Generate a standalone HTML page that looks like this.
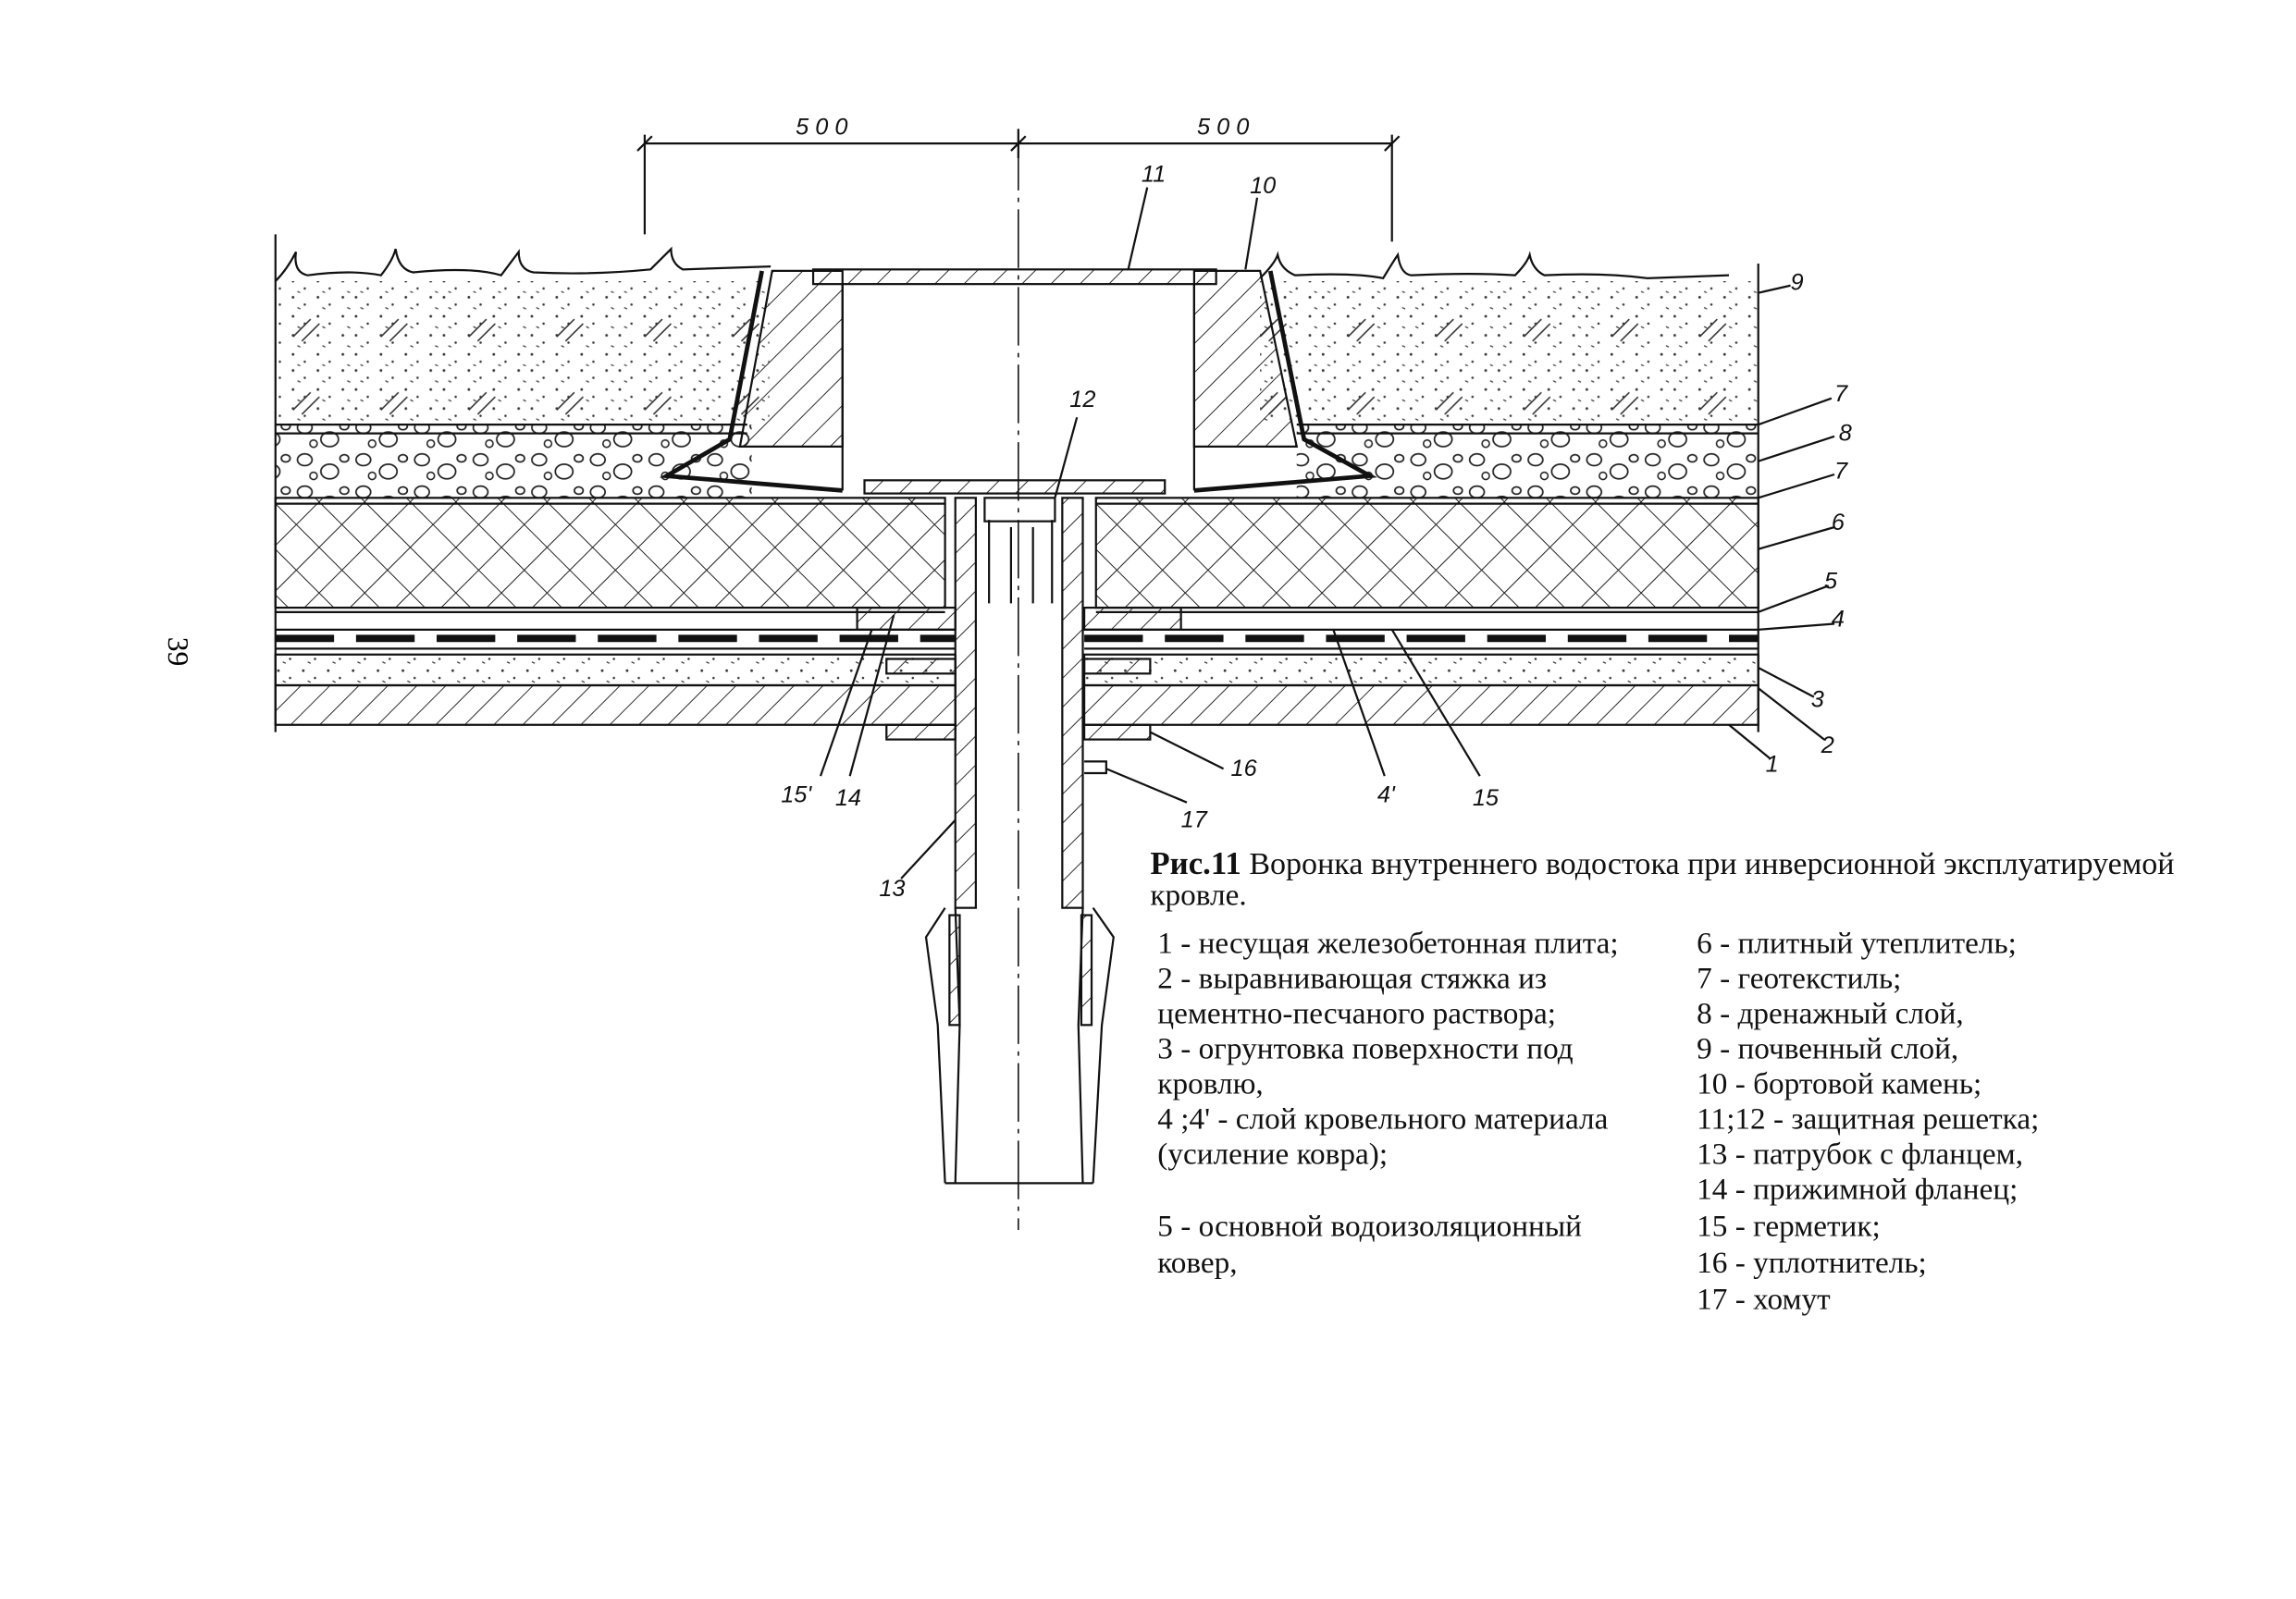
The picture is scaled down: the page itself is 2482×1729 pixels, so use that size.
<!DOCTYPE html>
<html><head><meta charset="utf-8"><style>
html,body{margin:0;padding:0;background:#fff;}
svg{display:block;}
.t{font-family:"Liberation Serif",serif;font-size:21px;fill:#111;}
.n{font-family:"Liberation Sans",sans-serif;font-style:italic;font-size:16px;fill:#111;}
</style></head><body>
<svg width="2482" height="1729" viewBox="0 0 1567 1092" preserveAspectRatio="none" xmlns="http://www.w3.org/2000/svg">
<defs>
<pattern id="diag" width="14" height="14" patternUnits="userSpaceOnUse" patternTransform="rotate(45)"><line x1="0" y1="0" x2="0" y2="14" stroke="#222" stroke-width="1.2"/></pattern>
<pattern id="cross" width="22" height="22" patternUnits="userSpaceOnUse" patternTransform="rotate(45)"><line x1="0" y1="0" x2="0" y2="22" stroke="#222" stroke-width="1.3"/><line x1="0" y1="0" x2="22" y2="0" stroke="#222" stroke-width="1.3"/></pattern>
<pattern id="dots" width="17" height="13" patternUnits="userSpaceOnUse"><circle cx="3" cy="3" r="0.9" fill="#333"/><circle cx="11" cy="8" r="0.8" fill="#333"/><line x1="6" y1="10" x2="8" y2="11" stroke="#333" stroke-width="0.8"/></pattern>
<pattern id="soil" width="60" height="50" patternUnits="userSpaceOnUse"><rect width="60" height="50" fill="url(#dots)"/><line x1="20" y1="30" x2="32" y2="18" stroke="#333" stroke-width="1"/><line x1="26" y1="33" x2="38" y2="21" stroke="#333" stroke-width="1"/></pattern>
<pattern id="grav" width="40" height="22" patternUnits="userSpaceOnUse"><ellipse cx="8" cy="6" rx="5" ry="4" fill="none" stroke="#222" stroke-width="1.1"/><ellipse cx="25" cy="14" rx="6" ry="5" fill="none" stroke="#222" stroke-width="1.1"/><ellipse cx="35" cy="5" rx="3" ry="2.5" fill="none" stroke="#222" stroke-width="1.1"/><circle cx="14" cy="17" r="2.5" fill="none" stroke="#222"/></pattern>
</defs>
<g stroke="#111" fill="none" stroke-width="1.4">
<line x1="440" y1="98" x2="950" y2="98"/>
<line x1="440" y1="92" x2="440" y2="160"/><line x1="950" y1="92" x2="950" y2="165"/><line x1="695" y1="88" x2="695" y2="108"/>
<line x1="435" y1="103" x2="445" y2="93"/><line x1="690" y1="103" x2="700" y2="93"/><line x1="945" y1="103" x2="955" y2="93"/>
<rect x="188" y="192" width="337" height="98" fill="url(#soil)" stroke="none"/>
<rect x="860" y="192" width="340" height="98" fill="url(#soil)" stroke="none"/>
<path d="M188 192 q8-8 14-20 q-2 14 8 16 q30 -4 50 0 q8-10 10-18 q2 14 12 16 q40 -4 60 2 q6-8 12-16 q0 12 10 14 q40 2 80 -2 q10-10 14-14 q0 10 8 14 l60 -2"/>
<path d="M860 190 q10-10 12-16 q2 10 12 14 q40 -2 60 2 q6-10 10-16 q2 14 10 14 q40-2 70 0 q8-8 10-14 q2 10 10 14 q40 -2 70 2 l56 -2"/>
<rect x="188" y="290" width="325" height="50" fill="url(#grav)" stroke="none"/>
<rect x="885" y="290" width="315" height="50" fill="url(#grav)" stroke="none"/>
<line x1="188" y1="290" x2="510" y2="290"/><line x1="885" y1="290" x2="1200" y2="290"/>
<line x1="188" y1="296" x2="510" y2="296"/><line x1="885" y1="296" x2="1200" y2="296"/>
<rect x="188" y="340" width="457" height="75" fill="url(#cross)"/>
<rect x="748" y="340" width="452" height="75" fill="url(#cross)"/>
<line x1="188" y1="344" x2="645" y2="344"/><line x1="748" y1="344" x2="1200" y2="344"/>
<line x1="188" y1="418" x2="645" y2="418"/><line x1="748" y1="418" x2="1200" y2="418"/>
<line x1="188" y1="436" x2="652" y2="436" stroke-width="5" stroke-dasharray="40 15"/>
<line x1="740" y1="436" x2="1200" y2="436" stroke-width="5" stroke-dasharray="40 15"/>
<line x1="188" y1="430" x2="652" y2="430"/><line x1="740" y1="430" x2="1200" y2="430"/>
<line x1="188" y1="443" x2="652" y2="443"/><line x1="740" y1="443" x2="1200" y2="443"/>
<rect x="188" y="447" width="464" height="21" fill="url(#dots)"/>
<rect x="740" y="447" width="460" height="21" fill="url(#dots)"/>
<rect x="188" y="468" width="464" height="27" fill="url(#diag)"/>
<rect x="740" y="468" width="460" height="27" fill="url(#diag)"/>
<line x1="188" y1="160" x2="188" y2="500"/><line x1="1200" y1="180" x2="1200" y2="500"/>
<path d="M527 185 L575 185 L575 305 L505 305 Z" fill="url(#diag)"/>
<path d="M815 185 L860 185 L885 305 L815 305 Z" fill="url(#diag)"/>
<path d="M520 185 L498 300 L455 325 L575 335" stroke-width="3"/>
<path d="M867 185 L890 300 L935 325 L815 335" stroke-width="3"/>
<rect x="555" y="184" width="275" height="10" fill="url(#diag)"/>
<line x1="575" y1="194" x2="575" y2="335"/><line x1="815" y1="194" x2="815" y2="335"/>
<rect x="590" y="328" width="205" height="9" fill="url(#diag)"/>
<rect x="652" y="340" width="14" height="280" fill="url(#diag)"/>
<rect x="725" y="340" width="14" height="280" fill="url(#diag)"/>
<line x1="675" y1="355" x2="675" y2="412"/><line x1="690" y1="360" x2="690" y2="412"/><line x1="705" y1="360" x2="705" y2="412"/><line x1="718" y1="355" x2="718" y2="412"/>
<rect x="672" y="340" width="48" height="16"/>
<path d="M645 620 L632 640 L640 700 L645 808 M652 620 L655 700 L652 808" />
<path d="M746 620 L760 640 L752 700 L746 808 M739 620 L736 700 L739 808"/>
<rect x="648" y="625" width="7" height="75" fill="url(#diag)"/><rect x="738" y="625" width="7" height="75" fill="url(#diag)"/>
<line x1="645" y1="808" x2="746" y2="808"/>
<rect x="585" y="415" width="67" height="15" fill="url(#diag)"/><rect x="740" y="415" width="66" height="15" fill="url(#diag)"/>
<rect x="605" y="450" width="47" height="10" fill="url(#diag)"/><rect x="740" y="450" width="45" height="10" fill="url(#diag)"/>
<rect x="605" y="495" width="47" height="10" fill="url(#diag)"/><rect x="740" y="495" width="45" height="10" fill="url(#diag)"/>
<path d="M740 520 h15 v8 h-15"/>
<line x1="695" y1="90" x2="695" y2="840" stroke-width="1" stroke-dasharray="40 5 3 5"/>
<path d="M1200 200 L1222 195"/><path d="M1200 290 L1250 272"/><path d="M1200 315 L1252 298"/><path d="M1200 340 L1252 324"/>
<path d="M1200 375 L1252 360"/><path d="M1200 418 L1248 400"/><path d="M1200 430 L1252 426"/><path d="M1200 456 L1238 476"/><path d="M1200 470 L1245 505"/><path d="M1180 495 L1208 518"/>
<path d="M785 500 L835 525"/><path d="M755 525 L810 548"/><path d="M910 430 L945 530"/><path d="M950 430 L1010 530"/><path d="M595 430 L560 530"/><path d="M610 420 L580 530"/><path d="M652 560 L615 600"/>
<path d="M720 340 L735 285"/><path d="M770 184 L783 128"/><path d="M850 184 L858 135"/>
</g>
<g class="n">
<text x="543" y="92">5 0 0</text><text x="817" y="92">5 0 0</text>
<text x="779" y="124">11</text><text x="853" y="132">10</text><text x="730" y="278">12</text>
<text x="1222" y="198">9</text><text x="1252" y="274">7</text><text x="1255" y="301">8</text><text x="1252" y="327">7</text>
<text x="1250" y="362">6</text><text x="1245" y="402">5</text><text x="1250" y="428">4</text><text x="1236" y="483">3</text><text x="1243" y="514">2</text><text x="1205" y="527">1</text>
<text x="840" y="530">16</text><text x="806" y="565">17</text><text x="940" y="548">4'</text><text x="1005" y="550">15</text>
<text x="533" y="548">15'</text><text x="570" y="550">14</text><text x="600" y="612">13</text>
</g>
<text x="105" y="445" transform="rotate(90 115 445)" style="font-family:'Liberation Serif',serif;font-size:20px">39</text>
<g class="t">
<text x="785" y="597" font-size="21.5"><tspan font-weight="bold" font-size="22">Рис.11</tspan> Воронка внутреннего водостока при инверсионной эксплуатируемой</text>
<text x="785" y="618">кровле.</text>
<text x="790" y="651">1 - несущая железобетонная плита;</text>
<text x="790" y="675">2 - выравнивающая стяжка из</text>
<text x="790" y="699">цементно-песчаного раствора;</text>
<text x="790" y="723">3 - огрунтовка поверхности под</text>
<text x="790" y="747">кровлю,</text>
<text x="790" y="771">4 ;4' - слой кровельного материала</text>
<text x="790" y="795">(усиление ковра);</text>
<text x="790" y="844">5 - основной водоизоляционный</text>
<text x="790" y="869">ковер,</text>
<text x="1158" y="651">6 - плитный утеплитель;</text>
<text x="1158" y="675">7 - геотекстиль;</text>
<text x="1158" y="699">8 - дренажный слой,</text>
<text x="1158" y="723">9 - почвенный слой,</text>
<text x="1158" y="747">10 - бортовой камень;</text>
<text x="1158" y="771">11;12 - защитная решетка;</text>
<text x="1158" y="795">13 - патрубок с фланцем,</text>
<text x="1158" y="819">14 - прижимной фланец;</text>
<text x="1158" y="844">15 - герметик;</text>
<text x="1158" y="869">16 - уплотнитель;</text>
<text x="1158" y="894">17 - хомут</text>
</g>
</svg>
</body></html>
